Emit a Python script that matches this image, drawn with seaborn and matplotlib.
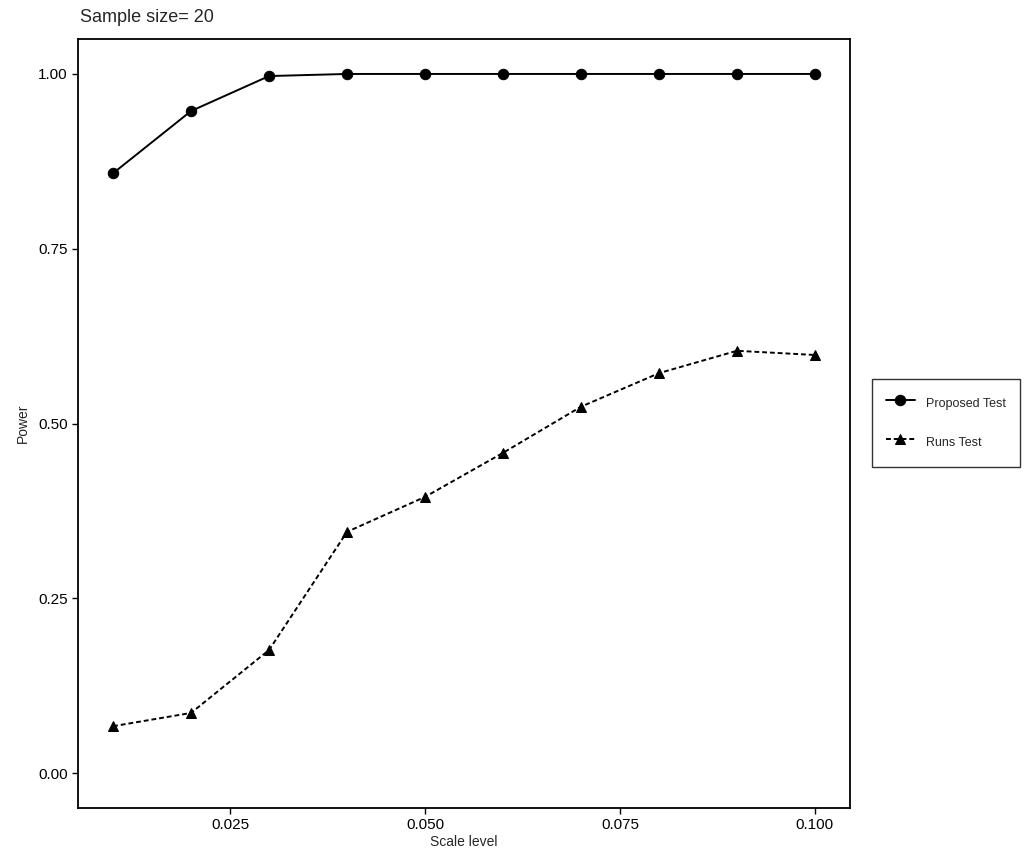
import matplotlib
matplotlib.use("Agg")
import matplotlib.pyplot as plt
import seaborn as sns
import pandas as pd

# data
scale = [0.01, 0.02, 0.03, 0.04, 0.05, 0.06, 0.07, 0.08, 0.09, 0.10]
proposed = [0.858, 0.947, 0.997, 1.0, 1.0, 1.0, 1.0, 1.0, 1.0, 1.0]
runs = [0.067, 0.086, 0.176, 0.345, 0.395, 0.458, 0.524, 0.572, 0.604, 0.598]
tests = ["Proposed Test", "Runs Test"]

df = pd.DataFrame({
    "Scale level": scale * 2,
    "Power": proposed + runs,
    "Test": [tests[0]] * len(scale) + [tests[1]] * len(scale),
})

sns.set_style("white")
plt.rcParams["font.family"] = ["Liberation Sans", "DejaVu Sans"]

fig = plt.figure(figsize=(10.35, 8.64), dpi=100)
ax = fig.add_axes([78 / 1035, 1 - 808 / 864, 772 / 1035, 769 / 864])

sns.lineplot(
    data=df, x="Scale level", y="Power", style="Test",
    markers={tests[0]: "o", tests[1]: "^"},
    dashes={tests[0]: "", tests[1]: (2.5, 1.5)},
    color="black", markersize=7.5, linewidth=1.4,
    markeredgecolor="black", ax=ax,
)

ax.set_xlim(0.0055, 0.1045)
ax.set_ylim(-0.05, 1.05)
ax.set_xticks([0.025, 0.050, 0.075, 0.100])
ax.set_xticklabels(["0.025", "0.050", "0.075", "0.100"])
ax.set_yticks([0, 0.25, 0.5, 0.75, 1.0])
ax.set_yticklabels(["0.00", "0.25", "0.50", "0.75", "1.00"])
ax.tick_params(axis="both", length=4, width=1, direction="out",
               labelsize=11, colors="black", left=True, bottom=True)
for s in ax.spines.values():
    s.set_color("black")
    s.set_linewidth(1.3)

ax.set_xlabel("Scale level", fontsize=10, labelpad=2)
ax.set_ylabel("Power", fontsize=10, labelpad=6)
fig.text(80 / 1035, 1 - 17 / 864, "Sample size= 20", fontsize=13,
         va="center", ha="left")

leg = ax.legend(
    title=None, loc="center left", bbox_to_anchor=(872 / 1035, 1 - 423 / 864),
    bbox_transform=fig.transFigure, frameon=True, fancybox=False,
    fontsize=9, borderpad=1.1, labelspacing=1.3, handlelength=2.3,
    handleheight=2.4, handletextpad=0.9, borderaxespad=0,
)
leg.get_frame().set_edgecolor("black")
leg.get_frame().set_linewidth(1)

fig.savefig("out.png", dpi=100)
